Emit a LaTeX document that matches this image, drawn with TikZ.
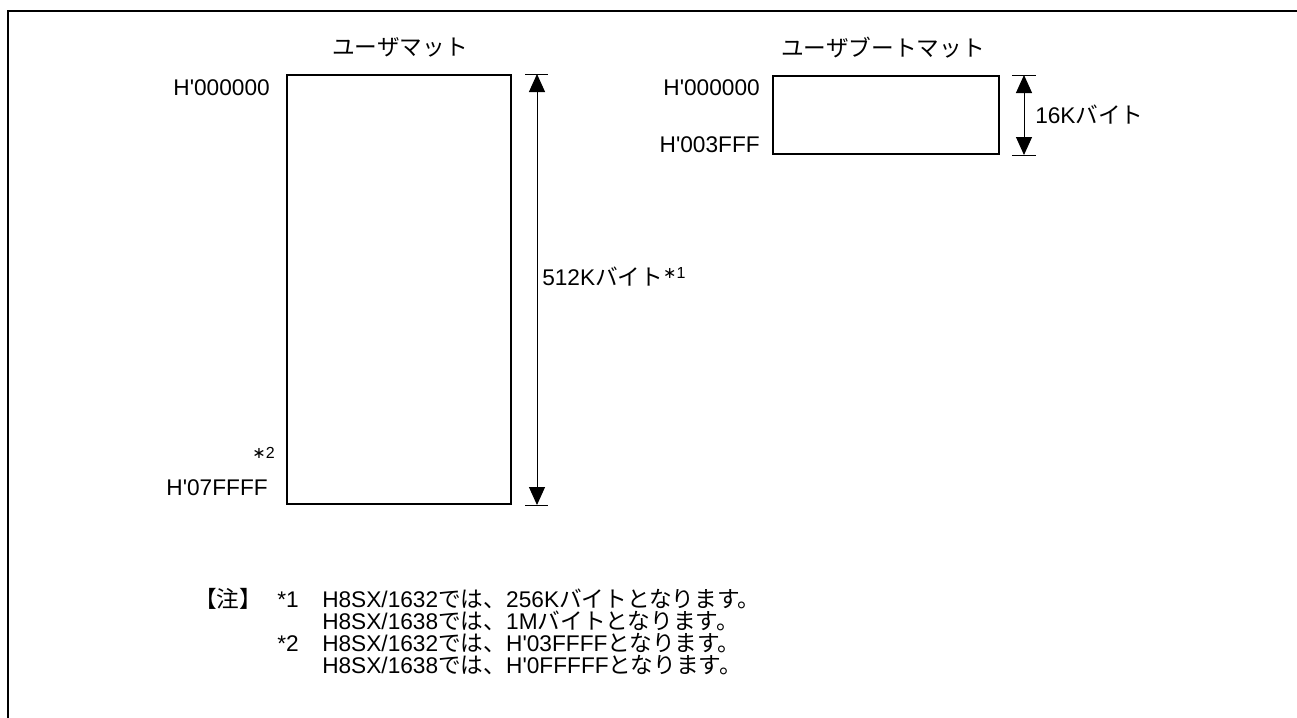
\documentclass[tikz,border=0pt]{standalone}
\usepackage{fontspec}
\setmainfont{Liberation Sans}
\newfontfamily\jp{Noto Sans CJK JP}
\newfontfamily\symf{DejaVu Sans}
\usepackage{tikz}
\usetikzlibrary{calc,positioning,arrows.meta}
\newcommand{\supmark}[1]{\raisebox{5pt}{\fontsize{12}{12}\selectfont{\symf ∗}#1}}
\newcommand{\q}{\textquotesingle}

\begin{document}
\begin{tikzpicture}[x=0.75pt,y=-0.75pt,
  every node/.style={font=\fontsize{17}{20}\selectfont, inner sep=0pt},
  matbox/.style={draw, line width=1.5pt, rectangle, anchor=north west},
  noteline/.style={anchor=base west, text height=12pt, text depth=2pt},
  extline/.style={line width=0.6pt},
  dimarrow/.style={line width=0.75pt,
    {Triangle[length=13.5pt,width=12pt]}-{Triangle[length=13.5pt,width=12pt]}}]
  % page: 1297 x 718 px
  \useasboundingbox (0,0) rectangle (1297,718);
  % Frame (top and left only)
  \draw[line width=2pt] (8,730) -- (8,11) -- (1310,11);

  % User mat
  \node[matbox, minimum width=168pt, minimum height=321.75pt] (umat) at (286,74) {};
  \node (utitle) at (400,47) {\jp ユーザマット};
  \node[anchor=base east] (utop) at (270,95) {H\q 000000};
  \node[anchor=base east] (ubot) at (268,495) {H\q 07FFFF};
  \node[anchor=base east] (ubotmark) at (275,465) {\supmark{2}};
  % Size arrow
  \coordinate (ua) at ($(umat.north east)+(25,0)$);
  \coordinate (ub) at ($(umat.south east)+(25,0)$);
  \draw[extline] ($(umat.north east)+(13,0)$) -- ++(23,0);
  \draw[extline] ($(umat.south east)+(13,0)$) -- ++(23,0);
  \draw[dimarrow] (ua) -- (ub);
  \node[anchor=base west] (usize) at (542,285) {512K{\jp バイト}\supmark{1}};

  % User boot mat
  \node[matbox, minimum width=169.5pt, minimum height=58.5pt] (bmat) at (772,75) {};
  \node (btitle) at (883,48) {\jp ユーザブートマット};
  \node[anchor=base east] (btop) at (760,95) {H\q 000000};
  \node[anchor=base east] (bbot) at (760,152) {H\q 003FFF};
  % Size arrow
  \coordinate (ba) at ($(bmat.north east)+(24,0)$);
  \coordinate (bb) at ($(bmat.south east)+(24,0)$);
  \draw[extline] ($(bmat.north east)+(12,0)$) -- ++(24,0);
  \draw[extline] ($(bmat.south east)+(12,0)$) -- ++(24,0);
  \draw[dimarrow] (ba) -- (bb);
  \node[anchor=base west] (bsize) at (1035,123) {16K{\jp バイト}};

  % Notes
  \node[noteline] (note) at (194,607) {\jp 【注】};
  \node[noteline] (mark1) at (277,607) {*1};
  \node[noteline] (mark2) at (277,651) {*2};
  \foreach \ny/\txt in {
    607/{H8SX/1632{\jp では、}256K{\jp バイトとなります。}},
    629/{H8SX/1638{\jp では、}1M{\jp バイトとなります。}},
    651/{H8SX/1632{\jp では、}H\q 03FFFF{\jp となります。}},
    673/{H8SX/1638{\jp では、}H\q 0FFFFF{\jp となります。}}%
  }{
    \node[noteline] at (322,\ny) {\txt};
  }
\end{tikzpicture}
\end{document}
